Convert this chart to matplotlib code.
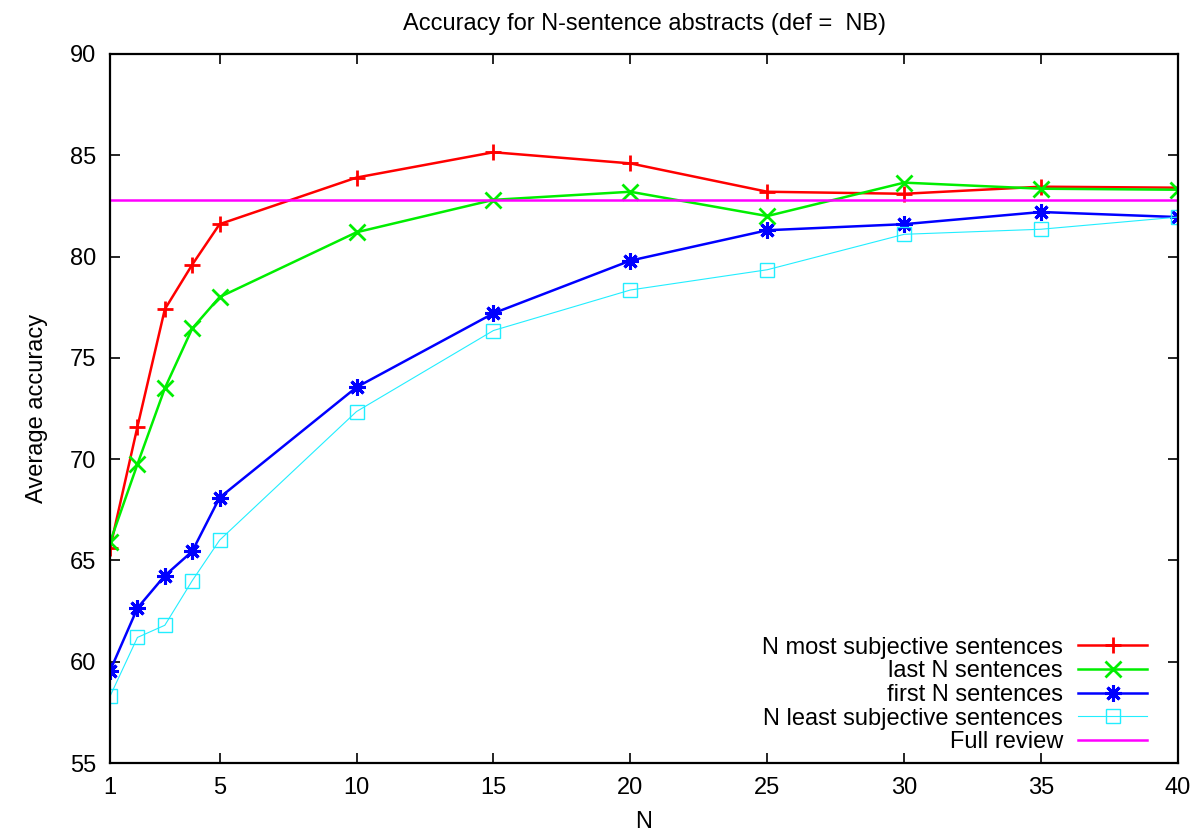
import matplotlib
matplotlib.use("Agg")
import matplotlib.pyplot as plt

plt.rcParams['font.family'] = ['Liberation Sans', 'DejaVu Sans']

# x positions (N sentences)
n_vals = [1, 2, 3, 4, 5, 10, 15, 20, 25, 30, 35, 40]

# accuracy
most_subj = [65.6, 71.6, 77.4, 79.6, 81.6, 83.9, 85.15, 84.6, 83.2, 83.1, 83.45, 83.4]
last_n = [65.9, 69.75, 73.5, 76.45, 78.0, 81.2, 82.8, 83.2, 82.0, 83.65, 83.35, 83.3]
first_n = [59.55, 62.65, 64.25, 65.45, 68.1, 73.55, 77.2, 79.8, 81.3, 81.6, 82.2, 81.95]
least_subj = [58.3, 61.2, 61.8, 64.0, 66.0, 72.35, 76.35, 78.35, 79.35, 81.1, 81.35, 81.95]
full_review = 82.8

x_ticks = [1, 5, 10, 15, 20, 25, 30, 35, 40]
y_ticks = [55, 60, 65, 70, 75, 80, 85, 90]

fig = plt.figure(figsize=(11.95, 8.32), dpi=100)
ax = fig.add_axes([0.0921, 0.0829, 0.8937, 0.8522])

ax.plot(n_vals, most_subj, color='#ff0000', lw=1.8, marker='+', ms=12, mew=2,
        label='N most subjective sentences')
ax.plot(n_vals, last_n, color='#00ee00', lw=1.8, marker='x', ms=11, mew=2,
        label='last N sentences')
ax.plot(n_vals, first_n, color='#0000ff', lw=1.8, marker=(8, 2, 0), ms=12, mew=2.2,
        label='first N sentences')
ax.plot(n_vals, least_subj, color='#22eeff', lw=0.8, marker='s', ms=9.5, mew=1,
        mfc='none', label='N least subjective sentences')
ax.axhline(full_review, color='#ff00ff', lw=1.8, label='Full review')

ax.set_xlim(1, 40)
ax.set_ylim(55, 90)
ax.set_xticks(x_ticks)
ax.set_yticks(y_ticks)
ax.tick_params(direction='in', length=7, width=1.2, labelsize=17,
               top=True, right=True, pad=10)
for s in ax.spines.values():
    s.set_linewidth(1.6)

ax.set_title('Accuracy for N-sentence abstracts (def =  NB)', fontsize=17, pad=17)
ax.set_xlabel('N', fontsize=17, labelpad=9)
ax.set_ylabel('Average accuracy', fontsize=17, labelpad=16)

ax.legend(loc='lower right', bbox_to_anchor=(0.9775, 0.0035), frameon=False,
          markerfirst=False, fontsize=17, handlelength=2.9, handletextpad=0.65,
          labelspacing=0.073, borderpad=0.3, borderaxespad=0)

fig.savefig('out.png', dpi=100)
